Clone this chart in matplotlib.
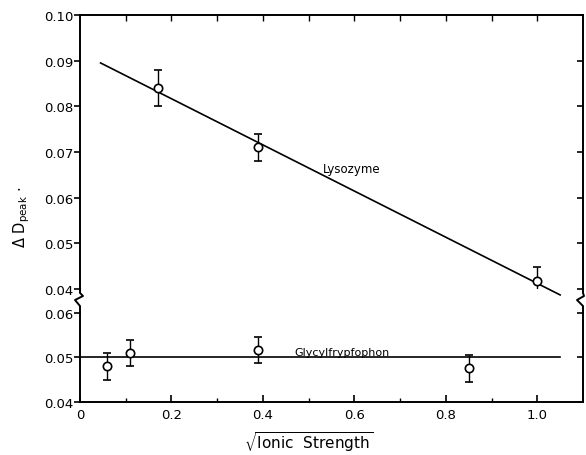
import matplotlib
matplotlib.use('Agg')
import matplotlib.pyplot as plt
from matplotlib.lines import Line2D
from matplotlib.markers import TICKLEFT
import numpy as np

# Lysozyme points (upper panel)
lyso_x = [0.17, 0.39, 1.00]
lyso_y = [0.084, 0.071, 0.0418]
lyso_err = [0.004, 0.003, 0.003]
lyso_fit_x = [0.045, 1.05]
lyso_fit_y = [0.0895, 0.0387]

# Glycyltryptophan points (lower panel)
gly_x = [0.06, 0.11, 0.39, 0.85]
gly_y = [0.048, 0.051, 0.0517, 0.0476]
gly_err = [0.003, 0.003, 0.003, 0.003]
gly_fit_x = [0.0, 1.05]
gly_fit_y = [0.05, 0.05]

upper_ticks = [0.04, 0.05, 0.06, 0.07, 0.08, 0.09, 0.10]
upper_labels = ['0.04', '0.05', '0.06', '0.07', '0.08', '0.09', '0.10']
lower_ticks = [0.04, 0.05, 0.06]
lower_labels = ['0.04', '0.05', '0.06']
x_ticks = [0, 0.2, 0.4, 0.6, 0.8, 1.0]
x_labels = ['0', '0.2', '0.4', '0.6', '0.8', '1.0']

plt.rcParams['font.family'] = ['DejaVu Sans']
W, H = 586, 456
fig = plt.figure(figsize=(W / 100, H / 100), dpi=100)

def px(x0, y0, x1, y1):
    return [x0 / W, 1 - y1 / H, (x1 - x0) / W, (y1 - y0) / H]

ax1 = fig.add_axes(px(80, 16, 583, 290))
ax2 = fig.add_axes(px(80, 314, 583, 403))

lw_spine = 1.4
for ax in (ax1, ax2):
    ax.set_xlim(0, 1.1)
    for s in ax.spines.values():
        s.set_linewidth(lw_spine)

ax1.spines['bottom'].set_visible(False)
ax2.spines['top'].set_visible(False)

ax1.set_ylim(0.04, 0.10)
ax2.set_ylim(0.04, 0.06)

# upper panel
ax1.plot(lyso_fit_x, lyso_fit_y, color='black', lw=1.2, clip_on=False)
ax1.errorbar(lyso_x, lyso_y, yerr=lyso_err, fmt='o', ms=6, mfc='white',
             mec='black', mew=1.2, ecolor='black', elinewidth=1.0,
             capsize=3, capthick=1.0, zorder=3)
ax1.text(0.595, 0.0664, 'Lysozyme', ha='center', va='center', fontsize=8.5)

ax1.set_yticks(upper_ticks)
ax1.set_yticklabels(upper_labels)
ax1.set_xticks(np.arange(0.1, 1.05, 0.1))
ax1.tick_params(axis='x', which='both', bottom=False, labelbottom=False,
                top=True, direction='in', length=4, width=1)

# lower panel
ax2.plot(gly_fit_x, gly_fit_y, color='black', lw=1.2)
ax2.errorbar(gly_x, gly_y, yerr=gly_err, fmt='o', ms=6, mfc='white',
             mec='black', mew=1.2, ecolor='black', elinewidth=1.0,
             capsize=3, capthick=1.0, zorder=3)
ax2.text(0.573, 0.0502, 'Glycylfrypfophon', ha='center', va='bottom',
         fontsize=8)

ax2.set_yticks(lower_ticks)
ax2.set_yticklabels(lower_labels)
ax2.set_xticks(x_ticks)
ax2.set_xticklabels(x_labels)
ax2.set_xticks(np.arange(0.1, 1.05, 0.2), minor=True)
ax2.tick_params(axis='x', which='major', direction='in', length=5,
                width=1.2, labelsize=9.5, pad=4)
ax2.tick_params(axis='x', which='minor', direction='in', length=3, width=1)

# y ticks: outward on the left, inward on the right
for ax in (ax1, ax2):
    ax.tick_params(axis='y', left=True, right=True, direction='out',
                   length=4, width=1.2, labelsize=9.5, pad=1)
    for t in ax.yaxis.get_major_ticks():
        t.tick2line.set_marker(TICKLEFT)

# axis break marks between the two panels
def brk(x, side):
    if side == 'left':
        xs = [x, x, x + 3, x - 5, x, x]
    else:
        xs = [x, x, x + 1, x - 6, x, x]
    ys = [290, 294, 297, 301, 307, 314]
    fig.add_artist(Line2D([v / W for v in xs], [1 - v / H for v in ys],
                          color='black', lw=lw_spine,
                          transform=fig.transFigure))

brk(80, 'left')
brk(583, 'right')

fig.text(22 / W, 1 - 217 / H, r'$\Delta$ D$_{\mathrm{peak}}$ $\cdot$',
         rotation=90, ha='center', va='center', fontsize=10.5)
fig.text(309 / W, 1 - 442 / H, r'$\sqrt{\mathrm{Ionic\ \ Strength}}$',
         ha='center', va='center', fontsize=11)

fig.savefig('out.png', dpi=100)
